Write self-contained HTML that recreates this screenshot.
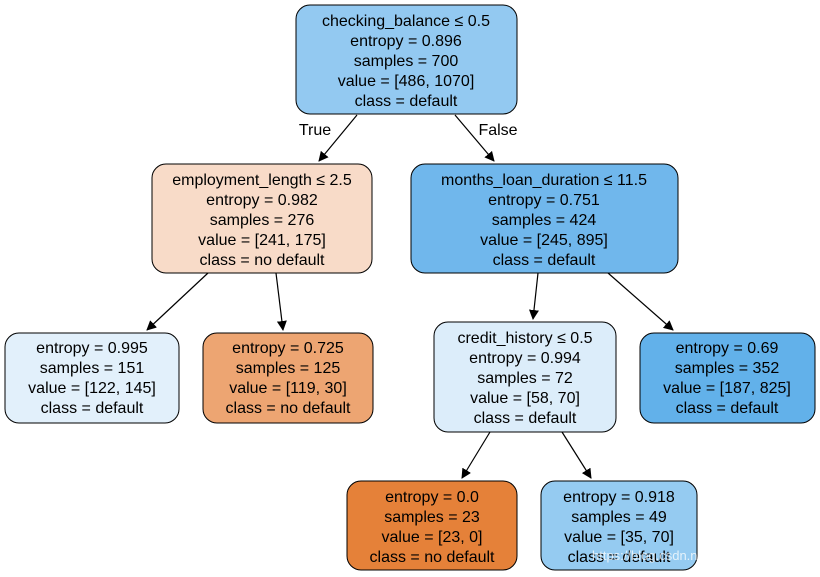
<!DOCTYPE html>
<html><head><meta charset="utf-8"><style>
html,body{margin:0;padding:0;background:#fff;}
svg{display:block;}
text{font-family:"Liberation Sans",Arial,sans-serif;font-size:16px;fill:#000;}
</style></head><body>
<svg width="820" height="577" viewBox="0 0 820 577" xmlns="http://www.w3.org/2000/svg">
<defs><marker id="a" markerWidth="10" markerHeight="10" refX="9" refY="5" orient="auto" markerUnits="userSpaceOnUse"><path d="M0,0 L10,5 L0,10 z" fill="#000"/></marker></defs>
<g stroke="#000" stroke-width="1.2" fill="none">
<line x1="357" y1="115" x2="319" y2="161" marker-end="url(#a)"/>
<line x1="455" y1="115" x2="494" y2="161" marker-end="url(#a)"/>
<line x1="208" y1="273" x2="147" y2="330" marker-end="url(#a)"/>
<line x1="276" y1="273" x2="283" y2="330" marker-end="url(#a)"/>
<line x1="538" y1="273" x2="533" y2="319" marker-end="url(#a)"/>
<line x1="608" y1="273" x2="673" y2="330" marker-end="url(#a)"/>
<line x1="490" y1="432" x2="462" y2="478" marker-end="url(#a)"/>
<line x1="562" y1="432" x2="591" y2="478" marker-end="url(#a)"/>
</g>
<g stroke="#000" stroke-width="1">
<rect x="296" y="5" width="221" height="109" rx="14" fill="#93c9f1"/>
<rect x="152" y="164" width="220" height="109" rx="14" fill="#f8dbc8"/>
<rect x="411" y="164" width="267" height="109" rx="14" fill="#70b7ec"/>
<rect x="5" y="333" width="174" height="90" rx="14" fill="#e2f0fb"/>
<rect x="203" y="333" width="170" height="90" rx="14" fill="#eda572"/>
<rect x="434" y="322" width="182" height="110" rx="14" fill="#dcedfa"/>
<rect x="640" y="333" width="175" height="90" rx="14" fill="#62b1ea"/>
<rect x="347" y="481" width="170" height="89" rx="14" fill="#e58139"/>
<rect x="541" y="481" width="156" height="89" rx="14" fill="#95cbf1"/>
</g>
<g text-anchor="middle">
<text x="406" y="26">checking_balance ≤ 0.5</text><text x="406" y="46">entropy = 0.896</text><text x="406" y="66">samples = 700</text><text x="406" y="86">value = [486, 1070]</text><text x="406" y="106">class = default</text>
<text x="262" y="185">employment_length ≤ 2.5</text><text x="262" y="205">entropy = 0.982</text><text x="262" y="225">samples = 276</text><text x="262" y="245">value = [241, 175]</text><text x="262" y="265">class = no default</text>
<text x="544" y="185">months_loan_duration ≤ 11.5</text><text x="544" y="205">entropy = 0.751</text><text x="544" y="225">samples = 424</text><text x="544" y="245">value = [245, 895]</text><text x="544" y="265">class = default</text>
<text x="92" y="353">entropy = 0.995</text><text x="92" y="373">samples = 151</text><text x="92" y="393">value = [122, 145]</text><text x="92" y="413">class = default</text>
<text x="288" y="353">entropy = 0.725</text><text x="288" y="373">samples = 125</text><text x="288" y="393">value = [119, 30]</text><text x="288" y="413">class = no default</text>
<text x="525" y="343">credit_history ≤ 0.5</text><text x="525" y="363">entropy = 0.994</text><text x="525" y="383">samples = 72</text><text x="525" y="403">value = [58, 70]</text><text x="525" y="423">class = default</text>
<text x="727" y="353">entropy = 0.69</text><text x="727" y="373">samples = 352</text><text x="727" y="393">value = [187, 825]</text><text x="727" y="413">class = default</text>
<text x="432" y="502">entropy = 0.0</text><text x="432" y="522">samples = 23</text><text x="432" y="542">value = [23, 0]</text><text x="432" y="562">class = no default</text>
<text x="619" y="502">entropy = 0.918</text><text x="619" y="522">samples = 49</text><text x="619" y="542">value = [35, 70]</text><text x="619" y="562">class = default</text>
<text x="315" y="135">True</text><text x="498" y="135">False</text>
</g>
<text x="592" y="560" style="font-size:13px;fill:#ffffff;opacity:0.75">https://blog.csdn.net/Ashmore</text>
</svg>
</body></html>
